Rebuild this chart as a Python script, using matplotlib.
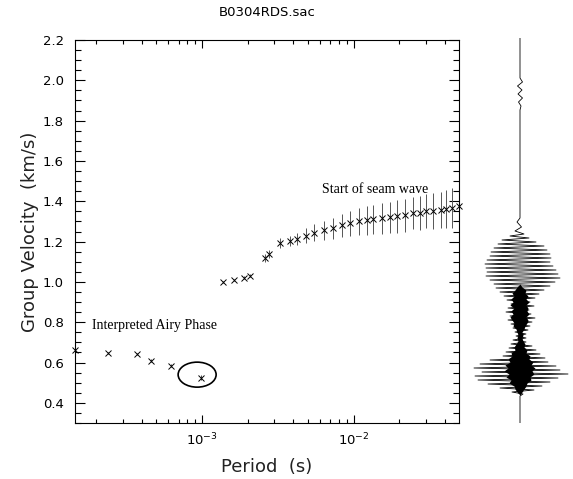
import numpy as np
import matplotlib.pyplot as plt
from matplotlib.patches import Ellipse
from matplotlib.ticker import MultipleLocator
from matplotlib.transforms import ScaledTranslation

# lower branch (Airy phase)
per_low = [1.46e-4, 2.41e-4, 3.73e-4, 4.62e-4, 6.25e-4, 9.85e-4]
vel_low = [0.66, 0.645, 0.64, 0.61, 0.585, 0.525]
err_low = [0.006, 0.005, 0.005, 0.006, 0.006, 0.012]

# upper branch (seam wave)
per_up = [1.38e-3, 1.62e-3, 1.88e-3, 2.08e-3, 2.58e-3, 2.75e-3, 3.26e-3, 3.79e-3,
          4.22e-3, 4.83e-3, 5.45e-3, 6.35e-3, 7.28e-3, 8.34e-3, 9.42e-3, 1.08e-2,
          1.22e-2, 1.35e-2, 1.53e-2, 1.73e-2, 1.92e-2, 2.17e-2, 2.45e-2, 2.72e-2,
          3.02e-2, 3.31e-2, 3.74e-2, 4.09e-2, 4.48e-2, 4.98e-2]
vel_up = [1.00, 1.01, 1.02, 1.03, 1.12, 1.14, 1.195, 1.205,
          1.215, 1.23, 1.245, 1.255, 1.265, 1.28, 1.29, 1.30,
          1.305, 1.31, 1.315, 1.32, 1.325, 1.33, 1.34, 1.34,
          1.35, 1.35, 1.355, 1.36, 1.365, 1.375]
err_up = [0.005, 0.005, 0.008, 0.008, 0.02, 0.02, 0.025, 0.025,
          0.03, 0.035, 0.04, 0.045, 0.05, 0.055, 0.06, 0.065,
          0.07, 0.07, 0.075, 0.075, 0.08, 0.08, 0.08, 0.085,
          0.085, 0.09, 0.09, 0.095, 0.1, 0.1]

# seismogram peaks (time down the trace, amplitude sideways)
seis_t = [0, 40, 44, 48, 52, 56, 60, 64, 68, 72, 180, 184, 189, 193, 196,
          198, 200, 202, 204, 206, 208, 210, 212, 214, 216, 218, 220, 222, 224,
          226, 228, 230, 232, 234, 236, 238, 240, 242, 244, 246, 248, 250, 252,
          254, 256, 258, 260,
          262, 264, 266, 268, 270, 272, 274, 276, 278, 280, 282, 284, 286, 288,
          290, 292, 294, 296, 298, 300, 302, 304,
          306, 308, 310, 312, 314, 316, 318, 320, 322, 324, 326, 328, 330, 332,
          334, 336, 338, 340, 342, 344, 346, 348, 350, 352, 354, 356, 358, 385]
seis_amp = [0, 0, 2.5, -2.5, 2, -2, 2.5, -1.5, 1, 0, 0, -3, 1.5, -5, 4,
            -10, 9, -18, 16, -22, 24, -26, 27, -29, 30, -30, 31, -33, 30,
            -35, 33, -34, 36, -33, 38, -34, 40, -30, 35, -26, 30, -24, 24,
            -20, 19, -16, 15,
            -13, 10, -9, 14, -12, 9, -14, 11, -10, 15, -12, 12, -9, 10,
            -7, 8, -5, 6, -4, 6, -7, 6,
            -9, 12, -11, 16, -14, 20, -17, 25, -30, 28, -40, 36, -46, 40,
            -38, 48, -45, 38, -42, 30, -32, 22, -20, 14, -8, 3, 0, 0]
# ragged dark core of the seismogram
core_t = [246, 249, 252, 255, 258, 261, 264, 267, 270, 273, 276, 279, 282, 285,
          288, 291, 294, 297, 300, 303, 306, 309, 312, 315, 318, 321, 324, 327,
          330, 333, 336, 339, 342, 345, 348, 351, 354, 357]
core_l = [0, 3, 5, 8, 6, 9, 7, 10, 6, 9, 7, 10, 8, 6,
          7, 4, 3, 2, 3, 2, 4, 6, 5, 9, 8, 12, 10, 15,
          12, 16, 11, 14, 9, 11, 6, 5, 3, 0]
core_r = [0, 2, 6, 5, 8, 6, 9, 6, 8, 7, 9, 6, 8, 7,
          5, 4, 2, 3, 2, 3, 5, 4, 7, 6, 10, 9, 13, 11,
          15, 12, 14, 10, 11, 7, 6, 4, 2, 0]

W, H = 573, 479
fig = plt.figure(figsize=(W / 100, H / 100), dpi=100)
ax = fig.add_axes([75 / W, 1 - 423 / H, 384 / W, 383 / H])

ax.errorbar(per_low, vel_low, yerr=err_low, fmt='x', color='black', ms=4, mew=0.7,
            ecolor='#444444', elinewidth=0.7, capsize=0, clip_on=False)
ax.errorbar(per_up, vel_up, yerr=err_up, fmt='x', color='black', ms=4, mew=0.7,
            ecolor='#555555', elinewidth=0.7, capsize=0, clip_on=False)

# circle round the airy phase point
trans = fig.dpi_scale_trans + ScaledTranslation(per_low[-1], vel_low[-1], ax.transData)
ax.add_patch(Ellipse((-0.04, 0.03), 0.38, 0.25, transform=trans, fill=False,
                     ec='black', lw=1.2, clip_on=False))

ax.text(1.89e-4, 0.785, 'Interpreted Airy Phase', family='Liberation Serif',
        fontsize=10, va='center', ha='left')
ax.text(6.16e-3, 1.46, 'Start of seam wave', family='Liberation Serif',
        fontsize=10, va='center', ha='left')

ax.set_xscale('log')
ax.set_xlim(1.45e-4, 4.95e-2)
ax.set_ylim(0.3, 2.2)
ax.yaxis.set_major_locator(MultipleLocator(0.2))
ax.yaxis.set_minor_locator(MultipleLocator(0.05))
ax.tick_params(which='both', direction='in', top=True, right=True, width=0.8,
               labelsize=9.5, colors='black')
ax.tick_params(axis='y', which='major', length=7, pad=8)
ax.tick_params(axis='y', which='minor', length=4.5)
ax.tick_params(axis='x', which='major', length=6, pad=6)
ax.tick_params(axis='x', which='minor', length=3)
for s in ax.spines.values():
    s.set_linewidth(0.8)

ax.set_xlabel('Period  (s)', fontsize=13, labelpad=7, color='#222222')
ax.set_ylabel('Group Velocity  (km/s)', fontsize=13, labelpad=3, color='#222222')
ax.set_title('B0304RDS.sac', fontsize=9.5, pad=17)

# seismogram
ax2 = fig.add_axes([470 / W, 1 - 423 / H, 103 / W, 385 / H])
ax2.plot(seis_amp, seis_t, color='black', lw=0.6)
ax2.fill_betweenx(core_t, [-v for v in core_l], core_r, color='black', lw=0)
ax2.set_xlim(-50, 53)
ax2.set_ylim(385, 0)
ax2.axis('off')

fig.savefig('out.png', dpi=100)
